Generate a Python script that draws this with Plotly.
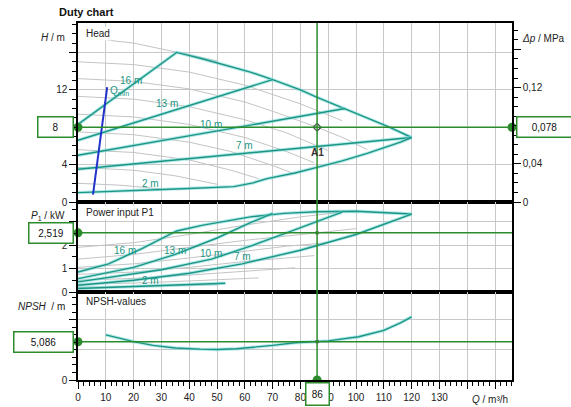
import plotly.graph_objects as go

FONT = "Liberation Sans, Arial, sans-serif"
TEAL = "#1b9684"
HALO = "rgba(120,215,215,0.55)"
GRAY = "#c4c4c4"
GRID = "#c8c8c8"
GREEN = "#2c8c2c"
BLUE = "#2233cc"

# ---------------- data ----------------
q_ticks = list(range(0, 160, 10))
q_ticktext = [str(v) for v in range(0, 140, 10)] + [" ", " "]

# operating point
op_q = 86
op_h = 8.0
op_dp = 0.078
op_p = 2.519
op_npsh = 5.086

# Head panel: teal control lines
env_q = [0, 35.5, 45, 55, 62, 70, 80, 86, 96, 105, 112, 120]
env_h = [8.3, 16.0, 15.3, 14.5, 13.9, 13.1, 12.0, 11.2, 10.0, 8.9, 8.0, 6.9]
h13_q = [0, 70]
h13_h = [6.6, 13.1]
h10_q = [0, 96]
h10_h = [5.0, 10.0]
h7_q = [0, 120]
h7_h = [3.5, 6.9]
h2_q = [0, 20, 40, 56, 63, 68, 78, 86, 95, 104, 116, 120]
h2_h = [1.0, 1.2, 1.45, 1.65, 2.05, 2.5, 3.1, 3.7, 4.4, 5.2, 6.4, 6.9]
qmin_q = [5.4, 6.3, 7.2, 8.0, 8.9, 9.7, 10.5]
qmin_h = [0.8, 2.9, 5.0, 7.0, 9.0, 10.8, 12.3]

# Head panel: gray pump curves
gray_head = [
    ([5, 20, 36, 50], [17.5, 17.0, 16.0, 15.1]),
    ([0, 20, 40, 60, 80, 95], [15.0, 14.7, 13.9, 12.5, 10.5, 8.7]),
    ([0, 20, 40, 60, 72, 86, 96, 104], [13.2, 12.9, 12.1, 10.7, 9.5, 8.0, 6.8, 5.6]),
    ([0, 20, 40, 60, 75, 90], [11.3, 11.0, 10.2, 8.8, 7.4, 5.5]),
    ([0, 20, 40, 60, 75, 85], [9.4, 9.1, 8.3, 6.9, 5.4, 4.2]),
    ([0, 20, 40, 55, 70, 78], [7.5, 7.2, 6.4, 5.4, 3.9, 3.0]),
    ([0, 20, 40, 55, 65], [5.6, 5.3, 4.5, 3.4, 2.5]),
    ([0, 20, 35, 50], [3.7, 3.4, 2.8, 1.9]),
    ([0, 15, 30], [2.0, 1.8, 1.4]),
]

# Power panel
p_env_q = [0, 11, 23, 35.5, 45, 62, 74, 86, 100, 111, 120]
p_env_p = [0.85, 1.2, 1.85, 2.6, 2.85, 3.2, 3.35, 3.42, 3.44, 3.38, 3.32]
p13_q = [0, 20, 35, 50, 62, 70]
p13_p = [0.57, 1.05, 1.6, 2.3, 2.95, 3.35]
p10_q = [0, 30, 48, 62, 75, 86, 95]
p10_p = [0.43, 0.95, 1.4, 1.95, 2.52, 3.0, 3.4]
p7_q = [0, 20, 40, 59, 80, 100, 120]
p7_p = [0.29, 0.5, 0.8, 1.2, 1.78, 2.45, 3.32]
p2_q = [0, 25, 53]
p2_p = [0.15, 0.25, 0.37]

gray_power = [
    ([0, 20, 40, 60, 80, 95], [1.9, 2.1, 2.45, 2.85, 3.2, 3.4]),
    ([0, 20, 40, 60, 86, 100], [1.4, 1.6, 1.9, 2.2, 2.52, 2.7]),
    ([0, 20, 40, 60, 75, 90], [1.05, 1.2, 1.45, 1.75, 1.95, 2.1]),
    ([0, 20, 40, 60, 75, 85], [0.75, 0.85, 1.05, 1.3, 1.45, 1.55]),
    ([0, 20, 40, 55, 70, 78], [0.5, 0.58, 0.72, 0.85, 0.98, 1.03]),
    ([0, 20, 40, 55, 65], [0.33, 0.38, 0.47, 0.55, 0.6]),
    ([0, 20, 35, 50], [0.2, 0.23, 0.27, 0.31]),
]

# NPSH panel
npsh_q = [10, 15, 20, 27, 35, 44, 50, 57, 64, 70, 78, 86, 90, 101, 110, 116, 120]
npsh_v = [6.0, 5.5, 5.1, 4.6, 4.25, 4.1, 4.05, 4.15, 4.35, 4.6, 4.95, 5.09, 5.2, 5.75, 6.6, 7.6, 8.4]

# axis ranges
q_max = 156.1
h_max = 19.15
dp_max = 0.18767
p_max = 3.833
n_max = 11.69

fig = go.Figure()


def gray(q, v, xa, ya):
    fig.add_trace(go.Scatter(x=q, y=v, xaxis=xa, yaxis=ya, mode="lines",
                             line=dict(color=GRAY, width=1), hoverinfo="skip", showlegend=False))


def teal(q, v, xa, ya):
    fig.add_trace(go.Scatter(x=q, y=v, xaxis=xa, yaxis=ya, mode="lines",
                             line=dict(color=HALO, width=3.4), hoverinfo="skip", showlegend=False))
    fig.add_trace(go.Scatter(x=q, y=v, xaxis=xa, yaxis=ya, mode="lines",
                             line=dict(color=TEAL, width=1.4), showlegend=False))


for q, v in gray_head:
    gray(q, v, "x", "y")
for q, v in gray_power:
    gray(q, v, "x2", "y2")

for q, v in [(env_q, env_h), (h13_q, h13_h), (h10_q, h10_h), (h7_q, h7_h), (h2_q, h2_h)]:
    teal(q, v, "x", "y")
for q, v in [(p_env_q, p_env_p), (p13_q, p13_p), (p10_q, p10_p), (p7_q, p7_p), (p2_q, p2_p)]:
    teal(q, v, "x2", "y2")
teal(npsh_q, npsh_v, "x3", "y3")

fig.add_trace(go.Scatter(x=qmin_q, y=qmin_h, xaxis="x", yaxis="y", mode="lines",
                         line=dict(color=BLUE, width=2), showlegend=False))

# dummy for right axis
fig.add_trace(go.Scatter(x=[op_q], y=[op_dp], xaxis="x", yaxis="y4", mode="markers",
                         marker=dict(size=1, color="rgba(0,0,0,0)"), showlegend=False, hoverinfo="skip"))

# operating point marks
fig.add_trace(go.Scatter(x=[op_q], y=[op_h], xaxis="x", yaxis="y", mode="markers",
                         marker=dict(symbol="diamond-open", size=6, color="#444", line=dict(width=1.2)),
                         showlegend=False))
fig.add_trace(go.Scatter(x=[op_q], y=[op_p], xaxis="x2", yaxis="y2", mode="markers",
                         marker=dict(symbol="square", size=3, color="#222"), showlegend=False))
fig.add_trace(go.Scatter(x=[op_q], y=[op_npsh], xaxis="x3", yaxis="y3", mode="markers",
                         marker=dict(symbol="square", size=3, color="#222"), showlegend=False))

# green crosshair lines
shapes = [
    dict(type="line", xref="x3", yref="paper", x0=op_q, x1=op_q, y0=0, y1=1,
         line=dict(color=GREEN, width=1.5)),
    dict(type="line", xref="paper", yref="y", x0=0, x1=1, y0=op_h, y1=op_h,
         line=dict(color=GREEN, width=1.5)),
    dict(type="line", xref="paper", yref="y2", x0=0, x1=1, y0=op_p, y1=op_p,
         line=dict(color=GREEN, width=1.5)),
    dict(type="line", xref="paper", yref="y3", x0=0, x1=1, y0=op_npsh, y1=op_npsh,
         line=dict(color=GREEN, width=1.5)),
]

gm = dict(size=9, color=GREEN)
fig.add_trace(go.Scatter(x=[0, q_max], y=[op_h, op_h], xaxis="x", yaxis="y", mode="markers",
                         marker=gm, cliponaxis=False, showlegend=False))
fig.add_trace(go.Scatter(x=[0], y=[op_p], xaxis="x2", yaxis="y2", mode="markers",
                         marker=gm, cliponaxis=False, showlegend=False))
fig.add_trace(go.Scatter(x=[0, op_q], y=[op_npsh, 0], xaxis="x3", yaxis="y3", mode="markers",
                         marker=gm, cliponaxis=False, showlegend=False))

# ---------------- axes ----------------
W, H = 571, 407
ml, mr, mt, mb = 78, 59, 23, 27
pw = W - ml - mr
ph = H - mt - mb


def px_x(px):
    return (px - ml) / pw


def px_y(py):
    return (H - mb - py) / ph


d_n = [0, px_y(292)]
d_p = [px_y(292), px_y(202)]
d_h = [px_y(202), 1]

tickfont = dict(family=FONT, size=10, color="#222")
base_x = dict(range=[0, q_max], tickvals=q_ticks, showgrid=True, gridcolor=GRID, gridwidth=1,
              showline=True, linecolor="black", linewidth=1.5, mirror=True, zeroline=False,
              domain=[0, 1], fixedrange=True, automargin=False)
base_y = dict(showgrid=True, gridcolor=GRID, gridwidth=1, showline=True, linecolor="black",
              linewidth=1.5, mirror=True, zeroline=False, ticks="outside", ticklen=7,
              tickcolor="black", tickfont=tickfont, fixedrange=True, automargin=False)

layout = dict(
    width=W, height=H, autosize=False,
    margin=dict(l=ml, r=mr, t=mt, b=mb, pad=0, autoexpand=False),
    paper_bgcolor="white", plot_bgcolor="white",
    showlegend=False,
    font=dict(family=FONT, size=10, color="#222"),
    xaxis=dict(base_x, anchor="y", matches="x3", showticklabels=False, ticks=""),
    xaxis2=dict(base_x, anchor="y2", matches="x3", showticklabels=False, ticks=""),
    xaxis3=dict(base_x, anchor="y3", ticktext=q_ticktext, ticks="outside", ticklen=7,
                tickcolor="black", tickfont=tickfont,
                minor=dict(dtick=2, ticks="outside", ticklen=4, tickcolor="black", showgrid=False)),
    yaxis=dict(base_y, domain=d_h, anchor="x", range=[0, h_max],
               tickvals=[0, 4, 8, 12, 16], ticktext=["0", "4", " ", "12", " "],
               minor=dict(dtick=1, ticks="outside", ticklen=4, tickcolor="black", showgrid=False)),
    yaxis4=dict(overlaying="y", side="right", anchor="x", range=[0, dp_max], showgrid=False,
                showline=True, linecolor="black", linewidth=1.5, zeroline=False,
                ticks="outside", ticklen=7, tickcolor="black", tickfont=tickfont,
                tickvals=[0, 0.04, 0.08, 0.12, 0.16], ticktext=["0", "0,04", " ", "0,12", " "],
                minor=dict(dtick=0.01, ticks="outside", ticklen=4, tickcolor="black", showgrid=False),
                fixedrange=True, automargin=False),
    yaxis2=dict(base_y, domain=d_p, anchor="x2", range=[0, p_max],
                tickvals=[0, 1, 2, 3], ticktext=["0", "1", "2", " "],
                minor=dict(dtick=0.5, ticks="outside", ticklen=4, tickcolor="black", showgrid=False)),
    yaxis3=dict(base_y, domain=d_n, anchor="x3", range=[0, n_max],
                tickvals=[0, 4, 8], ticktext=["0", " ", " "],
                minor=dict(dtick=1, ticks="outside", ticklen=4, tickcolor="black", showgrid=False)),
    shapes=shapes,
)
fig.update_layout(**layout)

# ---------------- annotations ----------------
ann = []


def txt(text, x, y, xref, yref, size=10, color="#222", xanchor="center", yanchor="middle",
        bg=None, angle=0):
    a = dict(text=text, x=x, y=y, xref=xref, yref=yref, showarrow=False, xanchor=xanchor,
             yanchor=yanchor, font=dict(family=FONT, size=size, color=color), textangle=angle)
    if bg:
        a["bgcolor"] = bg
    ann.append(a)


txt("<b>Duty chart</b>", px_x(57), px_y(12), "paper", "paper", size=11, color="#111", xanchor="left")
txt("<i>H</i> / m", px_x(67), px_y(37.5), "paper", "paper", xanchor="right")
txt("<i>Δp</i> / MPa", px_x(520), px_y(39), "paper", "paper", xanchor="left")
txt("<i>P</i><sub>1</sub> / kW", px_x(67), px_y(216), "paper", "paper", xanchor="right")
txt("<i>NPSH</i>  / m", px_x(67), px_y(306), "paper", "paper", xanchor="right")
txt("<i>Q</i> / m³/h", px_x(470), px_y(399), "paper", "paper", xanchor="left")

txt("Head", px_x(84), px_y(33), "paper", "paper", xanchor="left", bg="white")
txt("Power input P1", px_x(84), px_y(212), "paper", "paper", xanchor="left", bg="white")
txt("NPSH-values", px_x(84), px_y(301), "paper", "paper", xanchor="left", bg="white")

# teal line labels
for t, q, v in [("16 m", 19, 13.0), ("Q<sub>min</sub>", 15, 11.9), ("13 m", 32, 10.5),
                ("10 m", 48, 8.3), ("7 m", 60, 6.0), ("2 m", 26, 2.0)]:
    txt(t, q, v, "x", "y", color=TEAL)
for t, q, v in [("16 m", 17, 1.78), ("13 m", 35, 1.78), ("10 m", 48, 1.65),
                ("7 m", 59, 1.5), ("2 m", 26, 0.48)]:
    txt(t, q, v, "x2", "y2", color=TEAL)
txt("<b>A1</b>", op_q, 5.3, "x", "y", color="#333")


# value boxes
def box(text, x, y, xref, yref, w, h):
    ann.append(dict(text=text, x=x, y=y, xref=xref, yref=yref, showarrow=False,
                    xanchor="center", yanchor="middle", width=w, height=h,
                    bgcolor="white", bordercolor=GREEN, borderwidth=1.5, borderpad=0,
                    font=dict(family=FONT, size=10, color="#111")))


box("8", px_x(55.5), op_h, "paper", "y", 34, 19)
box("0,078", px_x(544), op_h, "paper", "y", 54, 19)
box("2,519", px_x(51), op_p, "paper", "y2", 43, 19)
box("5,086", px_x(43.5), op_npsh, "paper", "y3", 58, 19)
box(str(op_q), op_q, px_y(394), "x3", "paper", 22, 21)

fig.update_layout(annotations=ann)

fig.write_html("out.html",
               config={"displayModeBar": False, "responsive": False},
               post_script="document.body.style.margin='0';document.body.style.padding='0';"
                           "document.body.style.overflow='hidden';")
